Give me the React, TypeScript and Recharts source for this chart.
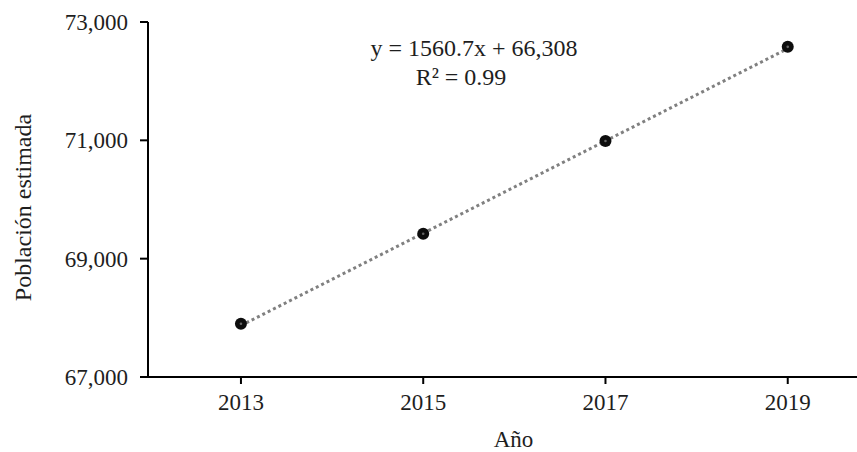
import { ComposedChart, XAxis, YAxis, Line, Scatter, Customized } from "recharts";

const years = [2013, 2015, 2017, 2019];
const poblacion = [67900, 69420, 70990, 72580];
// trend endpoints
const tendencia = [67870, null, null, 72550];
const yTicks = [67000, 69000, 71000, 73000];

const data = years.map((anio, i) => ({
  anio,
  pob: poblacion[i],
  tend: tendencia[i],
}));

const FONT = '"Liberation Serif", "Times New Roman", serif';

const Punto = (props: any) => {
  const { cx, cy } = props;
  return (
    <g>
      <circle cx={cx} cy={cy} r={6} fill="#0d0d0d" />
      <circle cx={cx} cy={cy} r={1.3} fill="#666" />
    </g>
  );
};

const Ecuacion = () => (
  <g fontFamily={FONT} fontSize={24} fill="#1e1e1e">
    <text x={474} y={56} textAnchor="middle">
      y = 1560.7x + 66,308
    </text>
    <text x={461} y={85} textAnchor="middle">
      R² = 0.99
    </text>
  </g>
);

const App = () => {
  return (
    <>
      <style>{"body{margin:0}"}</style>
      <ComposedChart
        width={857}
        height={452}
        data={data}
        margin={{ top: 22, right: 0, bottom: 0, left: 0 }}
      >
        <XAxis
          type="number"
          dataKey="anio"
          domain={[2011.98, 2019.76]}
          allowDataOverflow
          ticks={years}
          height={75}
          axisLine={{ stroke: "#000", strokeWidth: 2 }}
          tickLine={{ stroke: "#000", strokeWidth: 2 }}
          tickSize={7}
          tickMargin={10}
          tick={{ fill: "#1e1e1e", fontSize: 23, fontFamily: FONT }}
          label={{
            value: "Año",
            position: "center",
            dx: 11,
            dy: 24,
            fill: "#1e1e1e",
            fontSize: 23,
            fontFamily: FONT,
          }}
        />
        <YAxis
          type="number"
          domain={[67000, 73000]}
          ticks={yTicks}
          width={148}
          axisLine={{ stroke: "#000", strokeWidth: 2 }}
          tickLine={{ stroke: "#000", strokeWidth: 2 }}
          tickSize={8}
          tickMargin={12}
          tickFormatter={(v: number) => v.toLocaleString("en-US")}
          tick={{ fill: "#1e1e1e", fontSize: 23, fontFamily: FONT }}
          label={{
            value: "Población estimada",
            angle: -90,
            position: "center",
            dx: -52,
            dy: 8,
            fill: "#1e1e1e",
            fontSize: 24,
            fontFamily: FONT,
          }}
        />
        <Line
          dataKey="tend"
          connectNulls
          stroke="#808080"
          strokeWidth={3}
          strokeDasharray="3 3"
          dot={false}
          activeDot={false}
          isAnimationActive={false}
        />
        <Scatter dataKey="pob" shape={<Punto />} isAnimationActive={false} />
        <Customized component={Ecuacion} />
      </ComposedChart>
    </>
  );
};

export default App;
